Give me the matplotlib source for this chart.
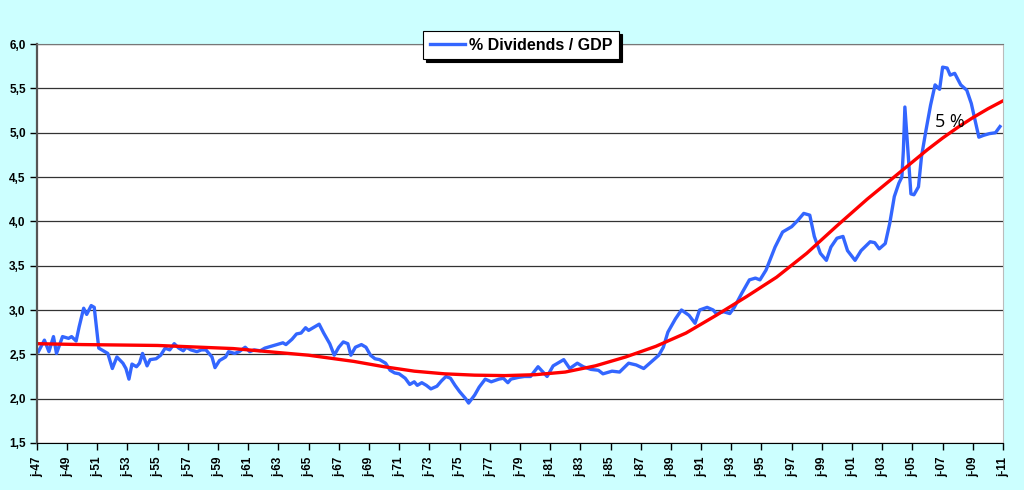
import matplotlib
matplotlib.use('Agg')
import matplotlib.pyplot as plt
import matplotlib.ticker as ticker

# % dividends / GDP (decimal years)
years = [
    1947.1, 1947.5, 1947.8, 1948.1, 1948.3, 1948.7, 1949.1, 1949.3, 1949.6, 1949.8,
    1950.1, 1950.3, 1950.6, 1950.8, 1951.1, 1951.4, 1951.7, 1952.0, 1952.3, 1952.7,
    1952.9, 1953.1, 1953.3, 1953.6, 1953.8, 1954.0, 1954.3, 1954.5, 1954.9, 1955.2,
    1955.5, 1955.8, 1956.1, 1956.4, 1956.7, 1956.9, 1957.2, 1957.6, 1957.9, 1958.2,
    1958.6, 1958.8, 1959.1, 1959.5, 1959.7, 1960.1, 1960.4, 1960.8, 1961.1, 1961.4,
    1961.8, 1962.1, 1962.5, 1962.9, 1963.3, 1963.5, 1963.9, 1964.2, 1964.5, 1964.8,
    1965.0, 1965.4, 1965.7, 1966.0, 1966.4, 1966.7, 1967.0, 1967.3, 1967.6, 1967.8,
    1968.1, 1968.5, 1968.8, 1969.1, 1969.4, 1969.7, 1970.1, 1970.4, 1970.7, 1971.0,
    1971.4, 1971.7, 1972.0, 1972.2, 1972.5, 1972.8, 1973.1, 1973.5, 1973.8, 1974.1,
    1974.4, 1974.7, 1975.0, 1975.4, 1975.6, 1976.0, 1976.3, 1976.7, 1977.1, 1977.6,
    1977.9, 1978.2, 1978.4, 1978.9, 1979.3, 1979.7, 1980.2, 1980.8, 1981.2, 1981.9,
    1982.3, 1982.8, 1983.2, 1983.7, 1984.2, 1984.5, 1985.1, 1985.6, 1986.2, 1986.7,
    1987.2, 1987.6, 1988.2, 1988.5, 1988.8, 1989.3, 1989.7, 1990.2, 1990.6, 1990.9,
    1991.4, 1991.8, 1992.0, 1992.5, 1992.9, 1993.2, 1993.7, 1994.2, 1994.6, 1994.9,
    1995.3, 1995.9, 1996.4, 1997.0, 1997.4, 1997.8, 1998.2, 1998.5, 1998.9, 1999.3,
    1999.6, 2000.0, 2000.4, 2000.7, 2001.2, 2001.6, 2002.2, 2002.5, 2002.8, 2003.2,
    2003.5, 2003.8, 2004.1, 2004.3, 2004.4, 2004.5, 2004.7, 2004.9, 2005.1, 2005.4,
    2005.6, 2005.9, 2006.2, 2006.5, 2006.8, 2007.0, 2007.3, 2007.5, 2007.8, 2008.2,
    2008.6, 2008.9, 2009.2, 2009.4, 2009.7, 2010.1, 2010.5, 2010.8,
]
dividends = [
    2.53, 2.66, 2.53, 2.70, 2.51, 2.70, 2.68, 2.70, 2.65, 2.81,
    3.02, 2.95, 3.05, 3.03, 2.57, 2.54, 2.51, 2.34, 2.47, 2.40,
    2.34, 2.22, 2.39, 2.36, 2.40, 2.51, 2.37, 2.44, 2.45, 2.49,
    2.57, 2.55, 2.62, 2.57, 2.54, 2.58, 2.55, 2.53, 2.55, 2.55,
    2.47, 2.35, 2.43, 2.47, 2.53, 2.51, 2.53, 2.58, 2.53, 2.55,
    2.54, 2.57, 2.59, 2.61, 2.63, 2.61, 2.67, 2.73, 2.74, 2.80,
    2.77, 2.81, 2.84, 2.74, 2.62, 2.49, 2.58, 2.64, 2.62, 2.49,
    2.58, 2.61, 2.58, 2.49, 2.45, 2.44, 2.40, 2.32, 2.29, 2.28,
    2.23, 2.16, 2.19, 2.15, 2.18, 2.15, 2.11, 2.14, 2.20, 2.25,
    2.23, 2.15, 2.08, 2.00, 1.95, 2.04, 2.13, 2.22, 2.19, 2.22,
    2.23, 2.18, 2.22, 2.24, 2.25, 2.25, 2.36, 2.25, 2.37, 2.44,
    2.34, 2.40, 2.36, 2.33, 2.32, 2.28, 2.31, 2.30, 2.40, 2.38,
    2.34, 2.40, 2.49, 2.58, 2.75, 2.90, 3.00, 2.94, 2.85, 3.00,
    3.03, 3.00, 2.96, 2.98, 2.96, 3.03, 3.19, 3.34, 3.36, 3.34,
    3.45, 3.71, 3.88, 3.94, 4.01, 4.09, 4.07, 3.83, 3.64, 3.56,
    3.71, 3.81, 3.83, 3.67, 3.56, 3.67, 3.77, 3.76, 3.69, 3.75,
    3.98, 4.28, 4.43, 4.50, 4.80, 5.29, 4.80, 4.31, 4.30, 4.39,
    4.73, 5.03, 5.31, 5.54, 5.49, 5.74, 5.73, 5.65, 5.67, 5.54,
    5.48, 5.33, 5.10, 4.95, 4.97, 4.99, 5.00, 5.07,
]

# trend curve
trend_years = [1947, 1950, 1955, 1960, 1965, 1968, 1970, 1972, 1974, 1976,
               1978, 1980, 1982, 1984, 1986, 1988, 1990, 1992, 1994, 1996,
               1998, 2000, 2001, 2002, 2003, 2004, 2005, 2006, 2007, 2008,
               2009, 2010, 2011]
trend = [2.62, 2.61, 2.60, 2.565, 2.49, 2.42, 2.36, 2.31, 2.28, 2.265,
         2.26, 2.27, 2.30, 2.37, 2.47, 2.59, 2.74, 2.94, 3.15, 3.37,
         3.64, 3.95, 4.10, 4.25, 4.39, 4.53, 4.67, 4.81, 4.94, 5.06,
         5.17, 5.27, 5.36]

tick_years = list(range(1947, 2012, 2))
tick_labels = ['j-%02d' % (y % 100) for y in tick_years]

fig = plt.figure(figsize=(10.24, 4.9), dpi=100, facecolor='#CCFFFF')
ax = fig.add_axes([0.036, 0.096, 0.9435, 0.814])
ax.set_facecolor('white')

line, = ax.plot(years, dividends, color='#3366FF', lw=2.4, label='% Dividends / GDP',
                solid_joinstyle='round')
ax.plot(trend_years, trend, color='#FF0000', lw=2.4, solid_joinstyle='round')

ax.set_xlim(1947, 2011)
ax.set_ylim(1.5, 6.0)
ax.set_yticks([1.5, 2.0, 2.5, 3.0, 3.5, 4.0, 4.5, 5.0, 5.5, 6.0])
ax.yaxis.set_major_formatter(ticker.FuncFormatter(lambda v, p: f'{v:.1f}'.replace('.', ',')))
ax.set_xticks(tick_years)
ax.set_xticklabels(tick_labels, rotation=90)

ax.grid(axis='y', color='#333333', lw=0.9)
ax.set_axisbelow(True)
for lab in ax.get_xticklabels() + ax.get_yticklabels():
    lab.set_fontfamily('Liberation Sans')
    lab.set_fontweight('bold')
    lab.set_fontsize(8.5)
ax.tick_params(axis='both', length=5, width=1, color='black')
ax.tick_params(axis='x', pad=5)
ax.tick_params(axis='y', pad=3)

ax.spines['left'].set_color('#555555')
ax.spines['left'].set_linewidth(1.6)
ax.spines['bottom'].set_color('black')
ax.spines['top'].set_color('#777777')
ax.spines['right'].set_color('#BBBBBB')

ax.text(2007.5, 5.12, '5 %', fontsize=13, family='Open Sans', ha='center', va='center',
        color='black')

leg = fig.legend(handles=[line], loc='center', bbox_to_anchor=(0.509, 0.908),
                 frameon=True, fancybox=False, edgecolor='black', framealpha=1,
                 shadow={'color': 'black', 'alpha': 1},
                 prop={'family': 'Liberation Sans', 'weight': 'bold', 'size': 11.5},
                 handlelength=2.2, handletextpad=0.3, borderpad=0.4)
leg.get_frame().set_linewidth(0.8)

fig.savefig('out.png', dpi=100, facecolor=fig.get_facecolor())
